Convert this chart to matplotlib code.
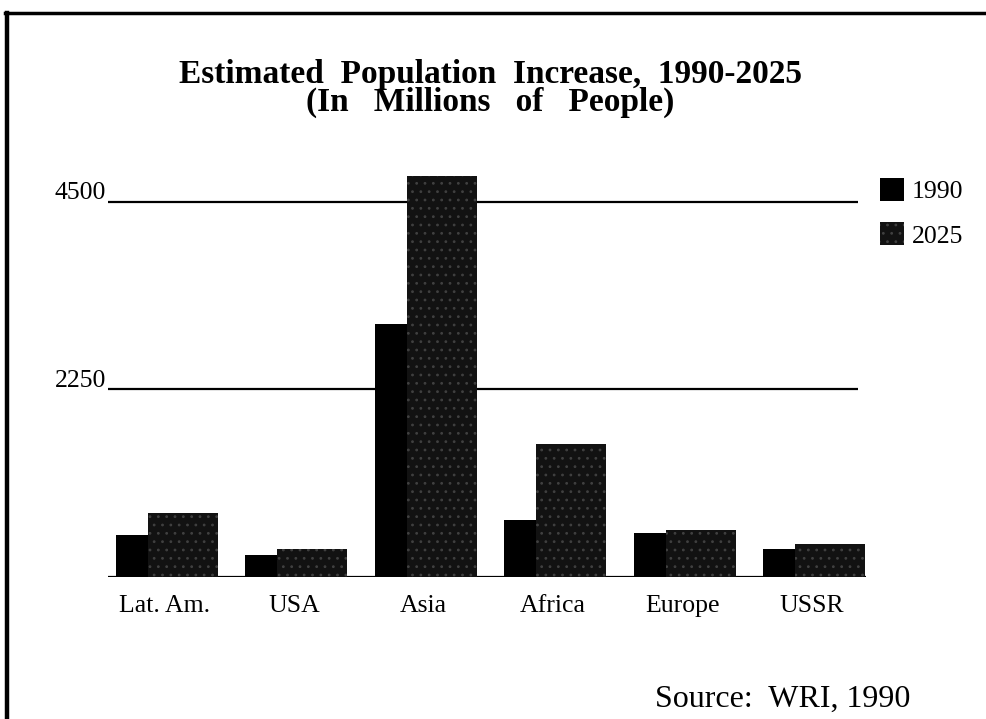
import matplotlib
matplotlib.use('Agg')
import matplotlib.pyplot as plt
from matplotlib.lines import Line2D
import numpy as np

# Population by region, in millions
regions = ['Lat. Am.', 'USA', 'Asia', 'Africa', 'Europe', 'USSR']
pop_1990 = [498, 258, 3040, 686, 526, 338]
pop_2025 = [766, 330, 4812, 1598, 558, 398]
y_ticks = [2250, 4500]

plt.rcParams['font.family'] = ['Liberation Serif', 'DejaVu Serif']
plt.rcParams['hatch.linewidth'] = 0.8

fig = plt.figure(figsize=(9.86, 7.19), dpi=100)
ax = fig.add_axes([108 / 986, 142 / 719, 758 / 986, 416.7 / 719])

x = np.arange(len(regions))
w = 0.54
b1 = ax.bar(x - 0.394, pop_1990, width=w, align='edge', color='black',
            linewidth=0, label='1990', zorder=3)
b2 = ax.bar(x - 0.147, pop_2025, width=w, align='edge', facecolor='#121212',
            edgecolor='#404040', hatch='..', linewidth=0, label='2025', zorder=4)

ax.set_xlim(-0.456, 5.40)
ax.set_ylim(0, 5000)

# horizontal rules at the tick values, with the label sitting just left of each
for v in y_ticks:
    ax.plot([-0.456, 5.336], [v, v], color='black', lw=1.6, zorder=2,
            solid_capstyle='butt')
    ax.text(-0.47, v - 30, str(v), ha='right', va='bottom', fontsize=18.5)
ax.plot([-0.456, 5.40], [0, 0], color='black', lw=1.6, zorder=2)

for xi, name in zip(x, regions):
    ax.text(xi - 0.02, -350, name, ha='center', va='center', fontsize=18.5)

for s in ax.spines.values():
    s.set_visible(False)
ax.set_xticks([])
ax.set_yticks([])
ax.patch.set_alpha(0)

fig.text(0.497, 0.877,
         'Estimated  Population  Increase,  1990-2025\n'
         '(In   Millions   of   People)',
         ha='center', va='center', multialignment='center',
         fontsize=24, fontweight='bold', linespacing=0.9)

fig.legend(handles=[b1, b2], loc='upper left',
           bbox_to_anchor=(867 / 986, 1 - 165 / 719), frameon=False,
           fontsize=18.5, handlelength=0.93, handleheight=1.0,
           handletextpad=0.3, labelspacing=0.75, borderpad=0)

fig.text(910 / 986, 1 - 699 / 719, 'Source:  WRI, 1990', ha='right',
         va='center', fontsize=23)

# page frame along the top and left edges
fig.add_artist(Line2D([5 / 986, 1], [1 - 13 / 719, 1 - 13 / 719],
                      color='black', lw=2.5, transform=fig.transFigure))
fig.add_artist(Line2D([7 / 986, 7 / 986], [0, 1 - 13 / 719],
                      color='black', lw=3.2, transform=fig.transFigure))

fig.savefig('out.png', dpi=100)
